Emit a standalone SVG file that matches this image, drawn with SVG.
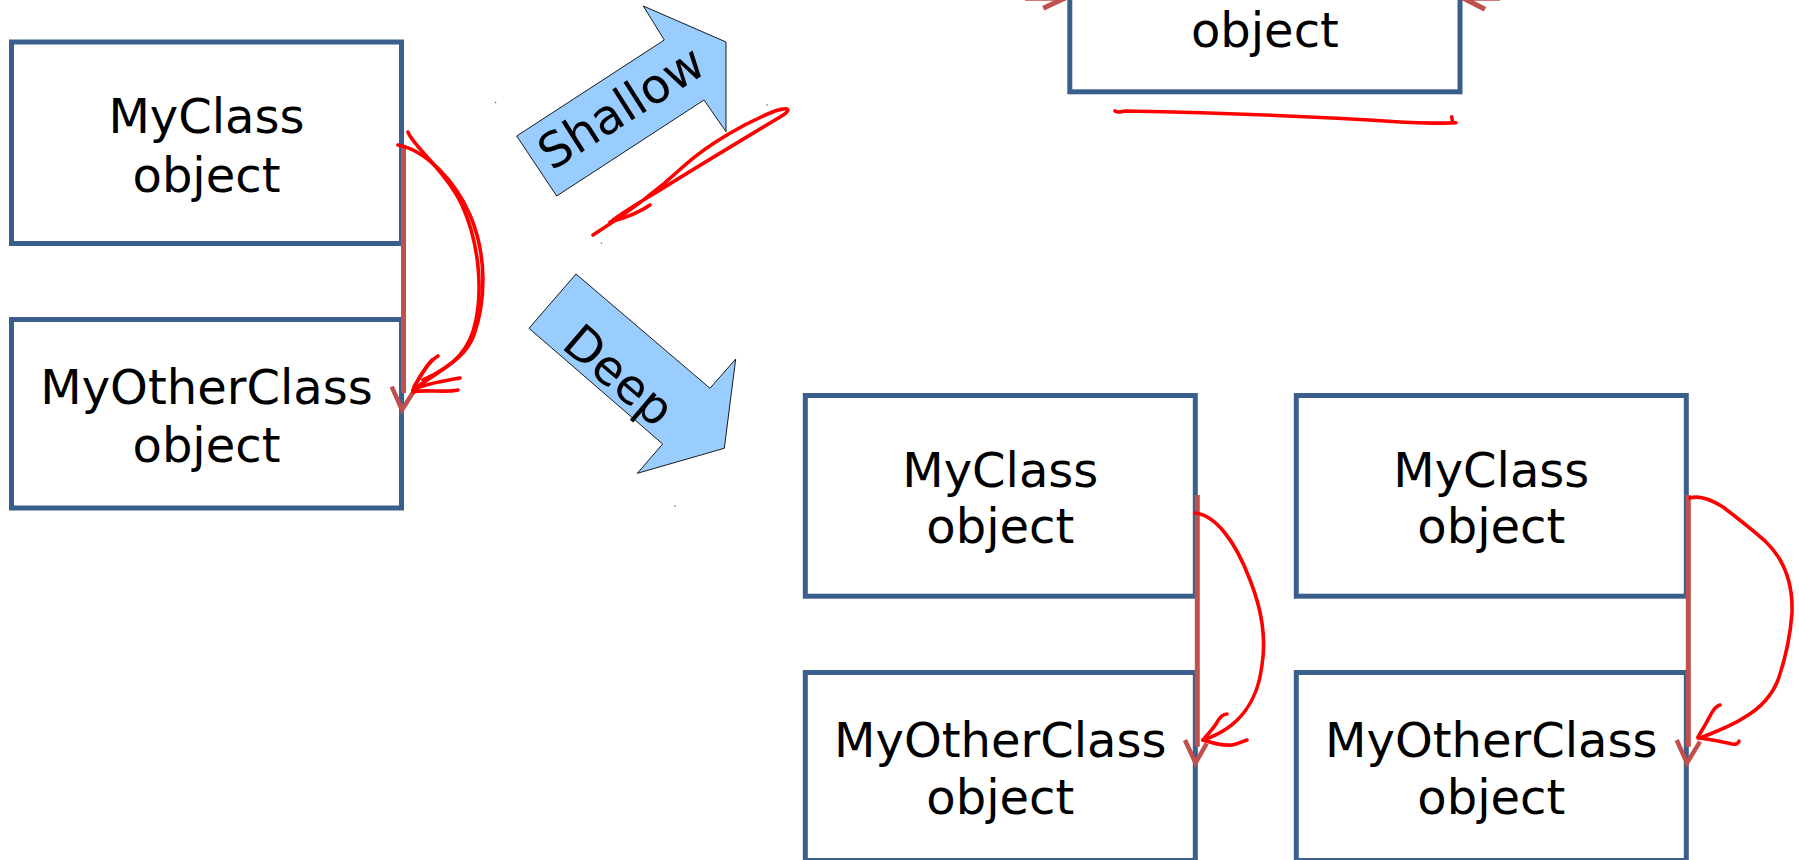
<svg xmlns="http://www.w3.org/2000/svg" width="1799" height="860" viewBox="0 0 1799 860">
  <style>
    .box { fill: #ffffff; stroke: #3b5f8c; stroke-width: 5; }
    .lbl { font-family: "DejaVu Sans", "Noto Sans", sans-serif; font-size: 48px; fill: #000000; text-anchor: middle; }
    .big { font-family: "DejaVu Sans", "Noto Sans", sans-serif; font-size: 48px; fill: #000000; text-anchor: middle; }
    .fat { fill: #99ccff; stroke: #1a1a1a; stroke-width: 1; stroke-linejoin: miter; }
    .ref { fill: none; stroke: #c0504d; stroke-width: 5; stroke-linecap: butt; }
    .head { fill: none; stroke: #c0504d; stroke-width: 4.5; stroke-linejoin: miter; }
    .ink { fill: none; stroke: #ff0000; stroke-width: 3.6; stroke-linecap: round; stroke-linejoin: round; }
    .speck { fill: #666666; }
  </style>
  <rect width="1799" height="860" fill="#ffffff"/>

  <!-- original object pair -->
  <g id="orig-myclass">
    <rect class="box" x="11.5" y="42" width="390" height="201.5"/>
    <text class="lbl" x="206.5" y="133">MyClass</text>
    <text class="lbl" x="206.5" y="191.7">object</text>
  </g>
  <g id="orig-myother">
    <rect class="box" x="11.5" y="319.5" width="390" height="188.5"/>
    <text class="lbl" x="206.5" y="404">MyOtherClass</text>
    <text class="lbl" x="206.5" y="462">object</text>
  </g>

  <!-- shallow copy target (top, clipped by the page edge) -->
  <g id="shallow-myclass">
    <rect class="box" x="1069.8" y="-110" width="390.2" height="201.8"/>
    <text class="lbl" x="1264.9" y="46.7">object</text>
  </g>

  <!-- deep copy: first pair -->
  <g id="deep-a-myclass">
    <rect class="box" x="805.3" y="395.5" width="390" height="200.7"/>
    <text class="lbl" x="1000.3" y="486.7">MyClass</text>
    <text class="lbl" x="1000.3" y="543.3">object</text>
  </g>
  <g id="deep-a-myother">
    <rect class="box" x="805.3" y="672.5" width="390" height="188"/>
    <text class="lbl" x="1000.3" y="757.3">MyOtherClass</text>
    <text class="lbl" x="1000.3" y="814.3">object</text>
  </g>

  <!-- deep copy: second pair -->
  <g id="deep-b-myclass">
    <rect class="box" x="1296.3" y="395.5" width="390" height="200.7"/>
    <text class="lbl" x="1491.3" y="486.7">MyClass</text>
    <text class="lbl" x="1491.3" y="543.3">object</text>
  </g>
  <g id="deep-b-myother">
    <rect class="box" x="1296.3" y="672.5" width="390" height="188"/>
    <text class="lbl" x="1491.3" y="757.3">MyOtherClass</text>
    <text class="lbl" x="1491.3" y="814.3">object</text>
  </g>

  <!-- block arrows -->
  <g id="arrow-shallow">
    <polygon class="fat" points="556.7,196 516.7,136 664.3,40 643.3,6 726,42 726,131.7 704,100"/>
    <text class="big" transform="translate(630,121.5) rotate(-32.5)">Shallow</text>
  </g>
  <g id="arrow-deep">
    <polygon class="fat" points="576,274 529,328.3 662.7,444 637.3,473.3 724.3,448.3 735.7,359 710,388.3"/>
    <text class="big" transform="translate(608,388) rotate(40.5)">Deep</text>
  </g>

  <g id="connectors">
    <!-- reference arrows -->
    <line class="ref" x1="403.5" y1="145" x2="403.5" y2="393"/>
    <polyline class="head" points="391.7,386.7 402,410 413.3,392"/>

    <line class="ref" x1="1197.3" y1="495" x2="1197.3" y2="746.7"/>
    <polyline class="head" points="1185,740 1195.5,763 1206.7,743.3"/>

    <line class="ref" x1="1688.3" y1="495" x2="1688.3" y2="746.7"/>
    <polyline class="head" points="1676.7,740 1687,763 1700,741.7"/>

    <!-- arrow ends entering the top box from both sides -->
    <line class="ref" x1="1025" y1="-1.8" x2="1066" y2="-1.8"/>
    <line class="ref" x1="1043.3" y1="8.3" x2="1065" y2="-2"/>
    <line class="ref" x1="1463" y1="-1.8" x2="1500" y2="-1.8"/>
    <line class="ref" x1="1463" y1="-2" x2="1485" y2="9.3"/>

    <!-- hand-drawn red annotations -->
    <path class="ink" d="M398,145 C425,150 455,180 470,215 C487,255 486,300 474,335 C465,360 440,370 413,390"/>
    <path class="ink" d="M408,132 C412,145 445,170 462,205 C480,245 482,290 476,320 C470,350 455,365 423,380"/>
    <path class="ink" d="M438,356 C428,362 420,375 413,390"/>
    <path class="ink" d="M432,360 C425,368 418,380 414,387"/>
    <path class="ink" d="M460,378 C445,381 425,383 413,390"/>
    <path class="ink" d="M458,390 C445,393 425,389 413,392"/>

    <path class="ink" d="M593,235 C620,218 655,193 685,165 C710,143 745,123 775,111 C790,106 792,110 780,117 C750,135 700,165 660,190 C640,202 625,211 613,220"/>
    <path class="ink" d="M610,222 C625,218 640,212 650,205"/>

    <path class="ink" d="M1115,111 C1118,113 1120,112 1125,111 C1230,113 1340,118 1400,122 C1430,124 1445,123 1456,122.7 M1451.7,116.7 L1452.5,122"/>

    <path class="ink" d="M1195,513 C1215,515 1235,540 1250,580 C1262,610 1266,640 1262,665 C1258,700 1240,728 1203,740"/>
    <path class="ink" d="M1227,714 C1222,714 1218,720 1216,724 C1212,730 1207,735 1203,740"/>
    <path class="ink" d="M1203,740 C1212,743 1222,746 1232,745 C1238,744 1243,741 1247,740"/>

    <path class="ink" d="M1690,498 C1700,495 1712,500 1723,507 C1740,520 1755,532 1765,541 C1785,560 1793,585 1792,613 C1790,640 1785,660 1778,680 C1770,700 1757,710 1745,717 C1730,727 1712,733 1700,738"/>
    <path class="ink" d="M1720,705 C1715,706 1712,712 1710,716 C1706,724 1702,730 1698,737"/>
    <path class="ink" d="M1698,738 C1710,739 1722,742 1732,744 C1736,745 1739,743 1739,741"/>
  </g>

  <!-- stray handle specks -->
  <circle class="speck" cx="495.5" cy="102.5" r="0.8"/>
  <circle class="speck" cx="601.5" cy="243" r="0.8"/>
  <circle class="speck" cx="767" cy="105" r="0.8"/>
  <circle class="speck" cx="675" cy="506" r="0.8"/>
</svg>
